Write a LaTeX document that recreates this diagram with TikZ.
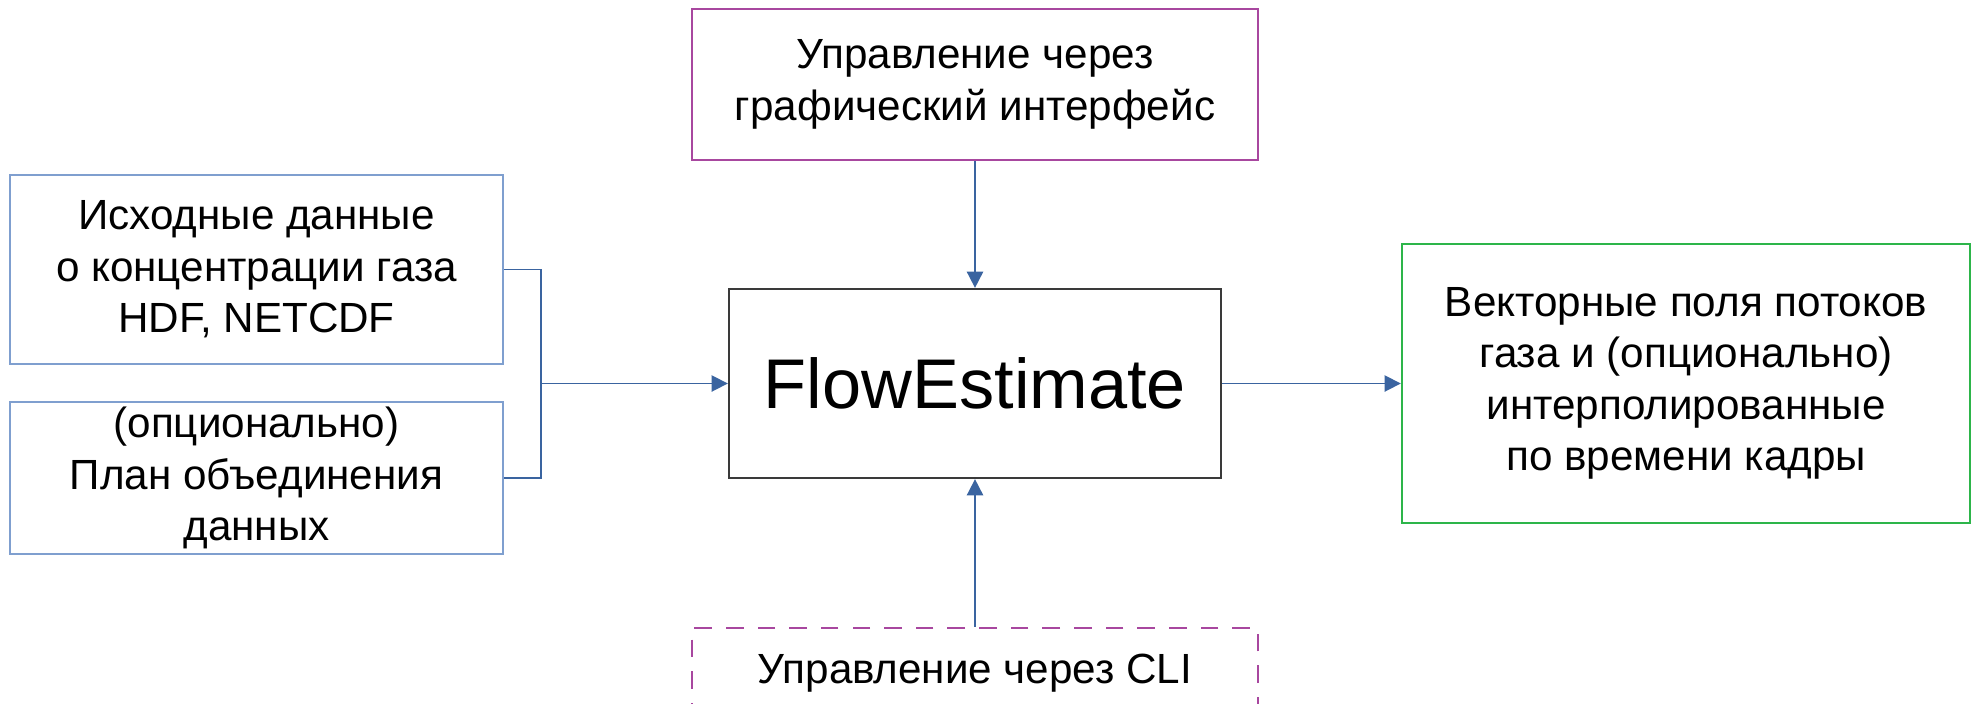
\documentclass[tikz,border=0pt]{standalone}
\usepackage{fontspec}
\setmainfont{Liberation Sans}
\usepackage{xcolor}
\usepackage{tikz}
\usetikzlibrary{arrows.meta,positioning,calc}
\definecolor{inblue}{HTML}{7F9FCF}
\definecolor{linkblue}{HTML}{3A64A0}
\definecolor{ctrlpink}{HTML}{A8479F}
\definecolor{outgreen}{HTML}{2DB54A}
\definecolor{coregray}{HTML}{3A3A3A}
\tikzset{
  box/.style={rectangle, align=center, inner sep=0pt, line width=0.6pt, font=\fontsize{12}{14.6}\selectfont},
  inbox/.style={box, draw=inblue, minimum width=4.93cm},
  ctrlbox/.style={box, draw=ctrlpink, minimum width=5.66cm},
  clibox/.style={ctrlbox, dashed, dash pattern=on 5pt off 4pt},
  corebox/.style={box, draw=coregray, minimum width=4.92cm, minimum height=1.89cm, font=\fontsize{20}{24}\selectfont},
  outbox/.style={box, draw=outgreen, minimum width=5.68cm, minimum height=2.79cm},
  link/.style={draw=linkblue, line width=0.5pt},
  arrow/.style={link, -{Triangle[length=4.6pt, width=4.6pt]}}
}
\begin{document}
\begin{tikzpicture}[x=0.01cm, y=-0.01cm]
  \useasboundingbox (0,0) rectangle (1977,703);
  \clip (0,0) rectangle (1977,703);

  \node[corebox] (core) at (975,383.5) {FlowEstimate};
  \node[ctrlbox, minimum height=1.51cm] (gui) at (975,84.5) {Управление через\\графический интерфейс};
  \node[clibox, minimum height=0.9cm] (cli) at (975,673) {Управление через CLI};

  \node[inbox, minimum height=1.89cm] (src) at (256.5,269.5) {Исходные данные\\о концентрации газа\\HDF, NETCDF};
  \node[inbox, minimum height=1.52cm] (plan) at (256.5,478) {(опционально)\\План объединения\\данных};

  \node[outbox] (out) at (1686,383.5) {Векторные поля потоков\\газа и (опционально)\\интерполированные\\ по времени кадры};

  \coordinate (join) at (541,383.5);
  \draw[link] (src.east) -| (join);
  \draw[link] (plan.east) -| (join);
  \draw[arrow] (join) -- (core.west);
  \draw[arrow] (gui.south) -- (core.north);
  \draw[arrow] (cli.north) -- (core.south);
  \draw[arrow] (core.east) -- (out.west);
\end{tikzpicture}
\end{document}
